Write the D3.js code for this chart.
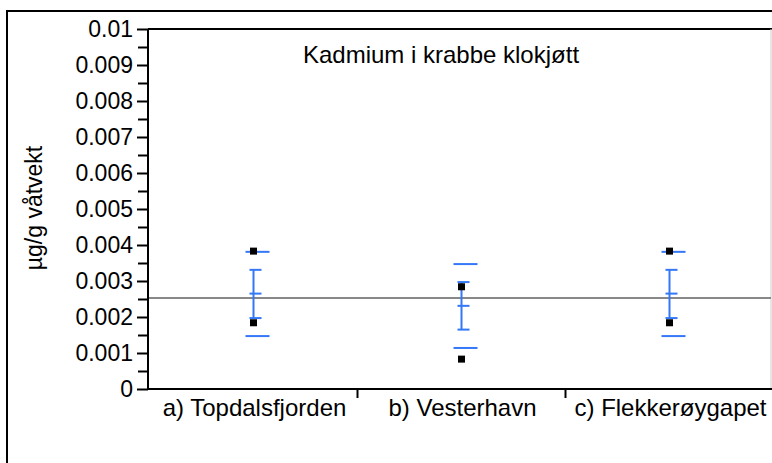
<!DOCTYPE html>
<html>
<head>
<meta charset="utf-8">
<script src="https://cdn.jsdelivr.net/npm/d3@7"></script>
<style>
  html, body { margin: 0; padding: 0; background: #fff; }
  svg { display: block; font-family: "Liberation Sans", Arial, sans-serif; }
</style>
</head>
<body>
<svg id="chart" width="772" height="463"></svg>
<script>
// Cadmium in crab claw meat, three stations
const categories = ["a) Topdalsfjorden", "b) Vesterhavn", "c) Flekkerøygapet"];
const highValues = [0.00383, 0.00284, 0.00383];   // upper sample per station
const lowValues  = [0.00184, 0.00083, 0.00184];   // lower sample per station
const means      = [0.00265, 0.00231, 0.00265];
const errLow     = [0.00197, 0.00165, 0.00197];   // error bar bounds
const errHigh    = [0.00331, 0.00297, 0.00331];
const sdLow      = [0.00147, 0.00114, 0.00147];   // spread lines
const sdHigh     = [0.00381, 0.00347, 0.00381];
const grandMean  = 0.00253;
const yTicks     = [0, 0.001, 0.002, 0.003, 0.004, 0.005, 0.006, 0.007, 0.008, 0.009, 0.01];
const yTickLabels = ["0", "0.001", "0.002", "0.003", "0.004", "0.005", "0.006", "0.007", "0.008", "0.009", "0.01"];
const yMinorTicks = [0.0005, 0.0015, 0.0025, 0.0035, 0.0045, 0.0055, 0.0065, 0.0075, 0.0085, 0.0095];
const titleText = "Kadmium i krabbe klokjøtt";
const yTitle = "µg/g våtvekt";

const svg = d3.select("#chart");
const plotLeft = 148, plotRight = 771, plotTop = 29, plotBottom = 389;
const blue = "#3477f7";
const font = "Liberation Sans, Arial, sans-serif";

const y = d3.scaleLinear().domain([0, 0.01]).range([plotBottom, plotTop]);
const x = d3.scaleBand().domain(categories).range([149.5, 773.5]);
const cx = c => x(c) + x.bandwidth() / 2;

// outer frame
svg.append("path")
  .attr("d", `M7,463 V11 H772`)
  .attr("fill", "none").attr("stroke", "#000").attr("stroke-width", 2);

// plot frame: top line and light right edge
svg.append("line").attr("x1", plotLeft).attr("x2", 772).attr("y1", plotTop).attr("y2", plotTop)
  .attr("stroke", "#000").attr("stroke-width", 2);
svg.append("line").attr("x1", plotRight).attr("x2", plotRight).attr("y1", plotTop).attr("y2", plotBottom)
  .attr("stroke", "#ccc").attr("stroke-width", 1);

// y axis
const yAxis = d3.axisLeft(y).tickValues(yTicks)
  .tickFormat((d, i) => yTickLabels[i]).tickSize(11).tickPadding(4);
const gy = svg.append("g").attr("transform", `translate(${plotLeft},0)`).call(yAxis)
  .attr("font-size", 23).attr("font-family", font);
gy.select(".domain").attr("stroke-width", 2).attr("d", `M0,${plotTop}V${plotBottom}`);
gy.selectAll(".tick line").attr("stroke-width", 2);
gy.selectAll(".tick text").attr("fill", "#000");
const gyMinor = svg.append("g").attr("transform", `translate(${plotLeft},0)`)
  .call(d3.axisLeft(y).tickValues(yMinorTicks).tickSize(10).tickFormat(""));
gyMinor.select(".domain").remove();
gyMinor.selectAll(".tick line").attr("stroke-width", 2);

// x axis with category dividers
svg.append("line").attr("x1", plotLeft - 1).attr("x2", 772).attr("y1", plotBottom).attr("y2", plotBottom)
  .attr("stroke", "#000").attr("stroke-width", 2);
const dividers = categories.slice(1).map(c => x(c));
svg.selectAll(".divider").data(dividers).join("line")
  .attr("x1", d => d).attr("x2", d => d)
  .attr("y1", plotBottom).attr("y2", plotBottom + 9)
  .attr("stroke", "#000").attr("stroke-width", 2);
svg.selectAll(".xlabel").data(categories).join("text")
  .attr("x", d => cx(d) + 1)
  .attr("y", 416)
  .attr("text-anchor", "middle")
  .attr("font-size", 24)
  .text(d => d);

// grand mean
svg.append("line").attr("x1", plotLeft + 1).attr("x2", plotRight)
  .attr("y1", y(grandMean)).attr("y2", y(grandMean))
  .attr("stroke", "#888").attr("stroke-width", 2);

// per station marks
const rows = categories.map((c, i) => ({
  c, hi: highValues[i], lo: lowValues[i], m: means[i],
  eL: errLow[i], eH: errHigh[i], sL: sdLow[i], sH: sdHigh[i]
}));
const g = svg.append("g");
const grp = g.selectAll("g").data(rows).join("g")
  .attr("transform", d => `translate(${cx(d.c)},0)`);
grp.append("line").attr("x1", 0).attr("x2", 0)
  .attr("y1", d => y(d.eH)).attr("y2", d => y(d.eL))
  .attr("stroke", blue).attr("stroke-width", 2);
["eH", "m", "eL"].forEach(k => {
  grp.append("line").attr("x1", -4).attr("x2", 8)
    .attr("y1", d => y(d[k])).attr("y2", d => y(d[k]))
    .attr("stroke", blue).attr("stroke-width", 2);
});
["sH", "sL"].forEach(k => {
  grp.append("line").attr("x1", -8).attr("x2", 16)
    .attr("y1", d => y(d[k])).attr("y2", d => y(d[k]))
    .attr("stroke", blue).attr("stroke-width", 2);
});
["hi", "lo"].forEach(k => {
  grp.append("rect").attr("x", -3.5).attr("width", 7).attr("height", 7)
    .attr("y", d => y(d[k]) - 3.5).attr("fill", "#000");
});

// title
svg.append("text").attr("x", 441).attr("y", 63).attr("text-anchor", "middle")
  .attr("font-size", 24).text(titleText);

// y title
svg.append("text").attr("transform", "translate(42,208) rotate(-90)")
  .attr("text-anchor", "middle").attr("font-size", 23).text(yTitle);
</script>
</body>
</html>
